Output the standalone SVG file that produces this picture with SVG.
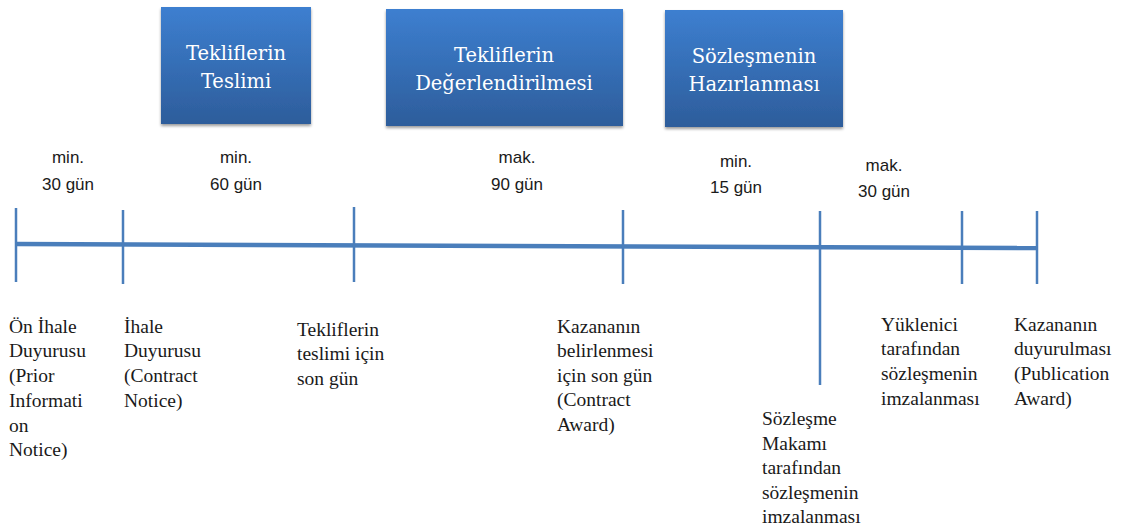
<svg xmlns="http://www.w3.org/2000/svg" width="1138" height="529" viewBox="0 0 1138 529">
<defs>
<linearGradient id="g" x1="0" y1="0" x2="0" y2="1">
<stop offset="0" stop-color="#3d7fd0"/>
<stop offset="1" stop-color="#2d5d9b"/>
</linearGradient>
<filter id="sh" x="-10%" y="-10%" width="120%" height="125%">
<feGaussianBlur in="SourceAlpha" stdDeviation="1.5"/>
<feOffset dx="0" dy="2"/>
<feComponentTransfer><feFuncA type="linear" slope="0.4"/></feComponentTransfer>
<feMerge><feMergeNode/><feMergeNode in="SourceGraphic"/></feMerge>
</filter>
</defs>
<style>
.box{fill:url(#g);filter:url(#sh)}
.bt{font-family:"DejaVu Serif","Liberation Serif",serif;font-size:19.5px;fill:#ffffff;text-anchor:middle}
.tl{stroke:#4a7ebb;fill:none}
.dur{font-family:"Liberation Sans",Arial,sans-serif;font-size:17px;fill:#1a1a1a;text-anchor:middle}
.lb{font-family:"Liberation Serif","DejaVu Serif",serif;font-size:19.5px;fill:#1a1a1a}
</style>
<g id="phase-teslim">
<rect class="box" x="161" y="7" width="150" height="117"/>
<text class="bt" x="236" y="60">Tekliflerin</text>
<text class="bt" x="236" y="88">Teslimi</text>
</g>
<g id="phase-degerlendirme">
<rect class="box" x="386" y="9" width="237" height="117"/>
<text class="bt" x="504" y="62">Tekliflerin</text>
<text class="bt" x="504" y="90">Değerlendirilmesi</text>
</g>
<g id="phase-sozlesme">
<rect class="box" x="665" y="10" width="178" height="117"/>
<text class="bt" x="754" y="63">Sözleşmenin</text>
<text class="bt" x="754" y="91">Hazırlanması</text>
</g>
<g id="connectors">
<line class="tl" x1="16" y1="244" x2="1037" y2="248" stroke-width="4.5"/>
<line class="tl" x1="16" y1="208" x2="16" y2="282" stroke-width="2.5"/>
<line class="tl" x1="123" y1="210" x2="123" y2="284" stroke-width="2.5"/>
<line class="tl" x1="354" y1="207" x2="354" y2="282" stroke-width="2.5"/>
<line class="tl" x1="623" y1="210" x2="623" y2="284" stroke-width="2.5"/>
<line class="tl" x1="820" y1="211" x2="820" y2="385" stroke-width="2.5"/>
<line class="tl" x1="962" y1="211" x2="962" y2="284" stroke-width="2.5"/>
<line class="tl" x1="1037" y1="211" x2="1037" y2="284" stroke-width="2.5"/>
</g>
<g id="durations">
<text class="dur" x="68" y="163">min.</text>
<text class="dur" x="68" y="190">30 gün</text>
<text class="dur" x="236" y="163">min.</text>
<text class="dur" x="236" y="190">60 gün</text>
<text class="dur" x="517" y="163">mak.</text>
<text class="dur" x="517" y="190">90 gün</text>
<text class="dur" x="736" y="167">min.</text>
<text class="dur" x="736" y="193">15 gün</text>
<text class="dur" x="884" y="171">mak.</text>
<text class="dur" x="884" y="197">30 gün</text>
</g>
<g id="event-on-ihale">
<text class="lb" x="9" y="333">Ön İhale</text>
<text class="lb" x="9" y="357">Duyurusu</text>
<text class="lb" x="9" y="382">(Prior</text>
<text class="lb" x="9" y="407">Informati</text>
<text class="lb" x="9" y="432">on</text>
<text class="lb" x="9" y="456">Notice)</text>
</g>
<g id="event-ihale">
<text class="lb" x="124" y="333">İhale</text>
<text class="lb" x="124" y="357">Duyurusu</text>
<text class="lb" x="124" y="382">(Contract</text>
<text class="lb" x="124" y="407">Notice)</text>
</g>
<g id="event-teslim">
<text class="lb" x="297" y="336">Tekliflerin</text>
<text class="lb" x="297" y="360">teslimi için</text>
<text class="lb" x="297" y="385">son gün</text>
</g>
<g id="event-kazanan">
<text class="lb" x="557" y="333">Kazananın</text>
<text class="lb" x="557" y="357">belirlenmesi</text>
<text class="lb" x="557" y="382">için son gün</text>
<text class="lb" x="557" y="406">(Contract</text>
<text class="lb" x="557" y="431">Award)</text>
</g>
<g id="event-sozlesme-makami">
<text class="lb" x="762" y="425">Sözleşme</text>
<text class="lb" x="762" y="450">Makamı</text>
<text class="lb" x="762" y="474">tarafından</text>
<text class="lb" x="762" y="499">sözleşmenin</text>
<text class="lb" x="762" y="523">imzalanması</text>
</g>
<g id="event-yuklenici">
<text class="lb" x="881" y="331">Yüklenici</text>
<text class="lb" x="881" y="355">tarafından</text>
<text class="lb" x="881" y="380">sözleşmenin</text>
<text class="lb" x="881" y="405">imzalanması</text>
</g>
<g id="event-duyuru">
<text class="lb" x="1014" y="331">Kazananın</text>
<text class="lb" x="1014" y="355">duyurulması</text>
<text class="lb" x="1014" y="380">(Publication</text>
<text class="lb" x="1014" y="405">Award)</text>
</g>
</svg>
